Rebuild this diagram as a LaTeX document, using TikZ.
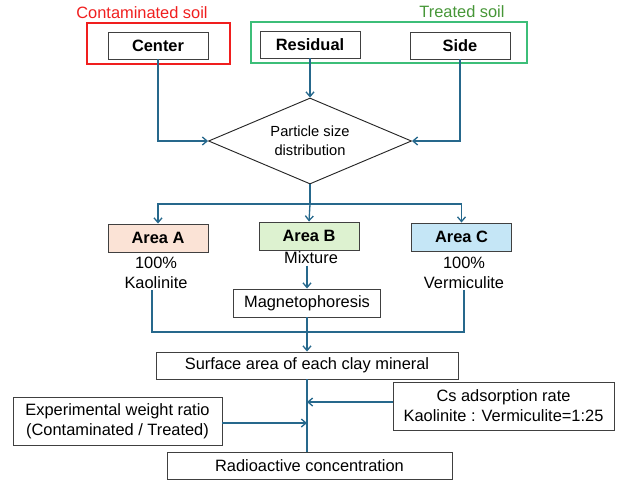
\documentclass[tikz,border=0pt]{standalone}
\usepackage{fontspec}
\setmainfont{Liberation Sans}
\usetikzlibrary{arrows.meta,positioning,shapes.geometric}
\definecolor{flowline}{RGB}{38,104,140}
\definecolor{frameRed}{RGB}{240,30,30}
\definecolor{frameGreen}{RGB}{60,190,120}
\definecolor{labelGreen}{RGB}{70,150,55}
\definecolor{fillA}{RGB}{251,227,214}
\definecolor{fillB}{RGB}{221,242,208}
\definecolor{fillC}{RGB}{197,230,246}
\begin{document}
\begin{tikzpicture}[x=0.75pt, y=-0.75pt,
  every node/.style={font=\fontsize{12.3pt}{15pt}\selectfont},
  box/.style={draw=black!75, line width=0.7pt, align=center, inner sep=2pt,
              minimum width=#1, minimum height=20.25pt},
  box/.default=75pt,
  area/.style={box, fill=#1, minimum height=21pt, font=\fontsize{12.3pt}{15pt}\selectfont\bfseries},
  frame/.style={draw=#1, line width=0.9pt, minimum width=107.25pt, minimum height=30.75pt, inner sep=0pt},
  txt/.style={align=center, inner sep=1pt},
  ln/.style={draw=flowline, line width=1pt},
  arr/.style={ln, -{Straight Barb[length=3.5pt, width=6pt]}}]
\useasboundingbox (0,0) rectangle (617,483);
\node[frame=frameRed] (redf) at (158.5,43.5) {};
\node[frame=frameGreen, minimum width=207pt] (greenf) at (389,42.5) {};
\node[text=frameRed] (clab) at (142,13) {Contaminated soil};
\node[text=labelGreen] (tlab) at (462,12) {Treated soil};
\node[box, font=\fontsize{12.3pt}{15pt}\selectfont\bfseries] (ctr) at (158,45.5) {Center};
\node[box, font=\fontsize{12.3pt}{15pt}\selectfont\bfseries] (res) at (310,44.5) {Residual};
\node[box, font=\fontsize{12.3pt}{15pt}\selectfont\bfseries] (side) at (460,45.5) {Side};
\node[diamond, aspect=2.36, draw=black!85, line width=0.7pt, inner sep=0pt, align=center,
      minimum width=152.25pt, minimum height=64.5pt,
      font=\fontsize{11pt}{14.5pt}\selectfont] (psd) at (310,141) {Particle size\\distribution};
\coordinate (hub) at (310,204);
\node[area=fillA] (areaA) at (158,238) {Area A};
\node[area=fillB] (areaB) at (309,236) {Area B};
\node[area=fillC] (areaC) at (461.5,237) {Area C};
\node[txt] (txtA) at (156,273) {100\%\\Kaolinite};
\node[txt] (mix) at (311,258) {Mixture};
\node[txt] (txtC) at (464,273) {100\%\\Vermiculite};
\node[box=110.25pt, minimum height=21pt] (mag) at (307,303) {Magnetophoresis};
\coordinate (join) at (307,332);
\node[box=226.5pt] (surf) at (307,365.5) {Surface area of each clay mineral};
\node[box=165.75pt, minimum height=36pt] (cs) at (503.5,406) {Cs adsorption rate\\Kaolinite : Vermiculite=1:25};
\node[box=156.75pt, minimum height=36pt] (exp) at (117.5,421) {Experimental weight ratio\\(Contaminated / Treated)};
\node[box=213.75pt] (rad) at (309.5,465.5) {Radioactive concentration};
\draw[arr] (ctr.south) |- (psd.west);
\draw[arr] (res) -- (psd);
\draw[arr] (side.south) |- (psd.east);
\draw[ln] (psd.south) -- (hub);
\draw[arr] (hub) -| (areaA.north);
\draw[arr] (hub) -| (areaC.north);
\draw[arr] (hub) -- (areaB.north);
\draw[arr] (mix.south -| mag.north) -- (mag.north);
\draw[ln] ([xshift=-3pt]txtA.south) |- (join) -| (txtC.south);
\draw[arr] (mag) -- (surf);
\draw[ln] (surf.south) -- (surf.south |- rad.north);
\draw[arr] ([yshift=3pt]cs.west) -- ([yshift=3pt]cs.west -| surf.south);
\draw[arr] ([yshift=-1.5pt]exp.east) -- ([yshift=-1.5pt]exp.east -| surf.south);
\end{tikzpicture}
\end{document}
